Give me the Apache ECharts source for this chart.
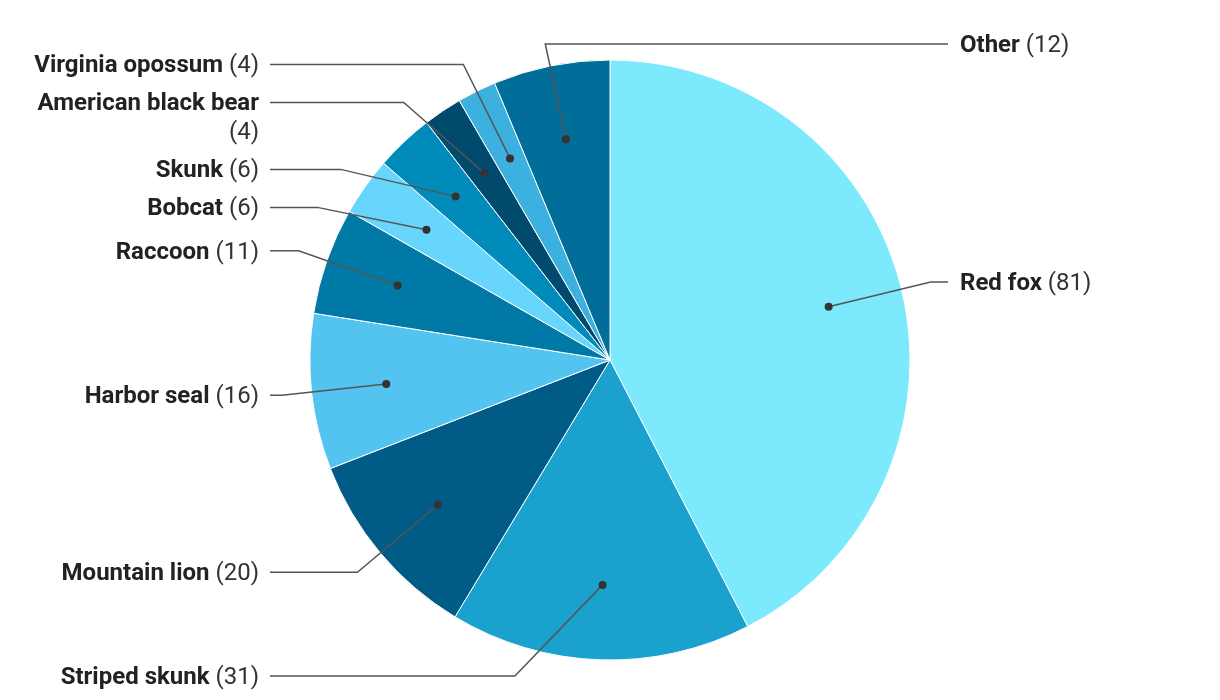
<!DOCTYPE html>
<html><head><meta charset="utf-8">
<script src="https://cdn.jsdelivr.net/npm/echarts@6/dist/echarts.min.js"></script>
<style>html,body{margin:0;padding:0;background:#fff}#c{width:1220px;height:700px}</style>
</head><body><div id="c"></div>
<script>
const categories = ['Red fox','Striped skunk','Mountain lion','Harbor seal','Raccoon','Bobcat','Skunk','American black bear','Virginia opossum','Other'];
const values = [81, 31, 20, 16, 11, 6, 6, 4, 4, 12];
const colors = ['#7de9fd','#1aa1cd','#005b86','#53c4f0','#0079a7','#67d5fc','#008bbb','#004a6e','#3cb1e0','#006e99'];

const CX = 610, CY = 360, R = 300, ELBOW_R = 330, DOT_F = 0.75;
const FONT = 'Roboto, "Noto Sans", sans-serif';
const FS = 24, LH = 29, MAX_W = 235, TEXT_DY = 2;
const MIN_Y = 44, MAX_Y = 676;

const total = values.reduce((a, b) => a + b, 0);
let cum = 0;
const mids = values.map(v => { const m = cum + v / 2; cum += v; return m; });

// text measurement for wrapping
const ctx = document.createElement('canvas').getContext('2d');
function w(text, bold) { ctx.font = (bold ? 'bold ' : '') + FS + 'px ' + FONT; return ctx.measureText(text).width; }
const lines = categories.map((c, i) => (w(c, true) + w(' (' + values[i] + ')', false) > MAX_W ? 2 : 1));

// label layout: natural position at elbow radius, then resolve overlaps
const info = mids.map((m, i) => {
  const a = m / total * 2 * Math.PI;
  const side = (a < Math.PI || a > 2 * Math.PI * 0.95) ? 1 : -1;
  return { i, a, side, y: CY - ELBOW_R * Math.cos(a) };
});
[1, -1].forEach(s => {
  const arr = info.filter(d => d.side === s).sort((p, q) => p.y - q.y);
  let prev = null;
  arr.forEach(d => {
    d.y = Math.max(MIN_Y, Math.min(MAX_Y, d.y));
    if (prev) d.y = Math.max(d.y, prev.y + 38 + (lines[prev.i] - 1) * LH);
    prev = d;
  });
});
const layout = [];
info.forEach(d => {
  const dy = d.y - CY;
  const nx = ELBOW_R * Math.sin(d.a);
  let ex;
  if (Math.sign(nx) === d.side) ex = CX + d.side * Math.sqrt(Math.max(0, ELBOW_R * ELBOW_R - dy * dy));
  else ex = CX + nx;
  const endX = d.side < 0 ? 270 : 948;
  layout[d.i] = {
    x: d.side < 0 ? 259 : 960,
    y: d.y - LH / 2 + TEXT_DY,
    align: d.side < 0 ? 'right' : 'left',
    verticalAlign: 'top',
    elbow: [ex, d.y],
    end: [endX, d.y]
  };
});

const chart = echarts.init(document.getElementById('c'), null, { renderer: 'canvas' });
chart.setOption({
  animation: false,
  polar: { center: [CX, CY], radius: R },
  angleAxis: { type: 'value', min: 0, max: total, startAngle: 90, clockwise: true, show: false },
  radiusAxis: { type: 'value', min: 0, max: 1, show: false },
  series: [
    {
      type: 'pie',
      center: [CX, CY],
      radius: R,
      startAngle: 90,
      clockwise: true,
      silent: true,
      data: categories.map((c, i) => ({ name: c, value: values[i], itemStyle: { color: colors[i] } })),
      itemStyle: { borderColor: '#fff', borderWidth: 1 },
      label: {
        show: true,
        fontFamily: FONT,
        lineHeight: LH,
        formatter: p => '{b|' + p.name + '}' + (lines[p.dataIndex] > 1 ? '\n{v|' : '{v| ') + '(' + p.value + ')}',
        rich: {
          b: { fontFamily: FONT, fontSize: FS, fontWeight: 'bold', color: '#222', lineHeight: LH },
          v: { fontFamily: FONT, fontSize: FS, fontWeight: 'normal', color: '#333', lineHeight: LH }
        }
      },
      labelLine: { show: false },
      labelLayout: p => {
        const L = layout[p.dataIndex];
        return { x: L.x, y: L.y, align: L.align, verticalAlign: L.verticalAlign };
      }
    },
    {
      type: 'custom',
      coordinateSystem: 'polar',
      silent: true,
      z: 10,
      data: mids.map((m, i) => [DOT_F, m, i]),
      renderItem: (params, api) => {
        const p = api.coord([api.value(0), api.value(1)]);
        const L = layout[api.value(2)];
        return {
          type: 'group',
          children: [
            { type: 'polyline', shape: { points: [p, L.elbow, L.end] }, style: { stroke: '#555', lineWidth: 1.5, fill: null } },
            { type: 'circle', shape: { cx: p[0], cy: p[1], r: 4 }, style: { fill: '#333' } }
          ]
        };
      }
    }
  ]
});
</script>
</body></html>
